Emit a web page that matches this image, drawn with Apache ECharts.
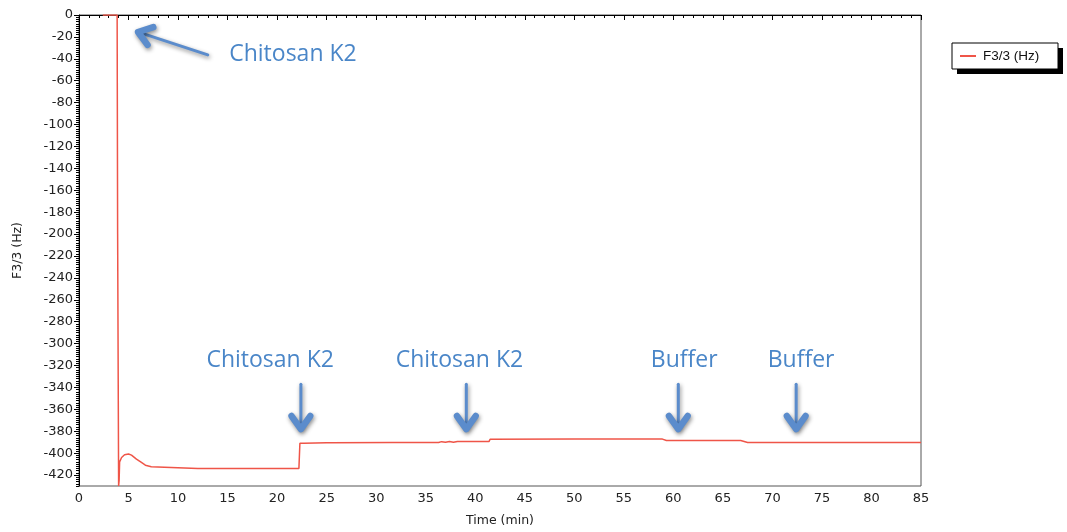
<!DOCTYPE html>
<html>
<head>
<meta charset="utf-8">
<script src="https://cdn.jsdelivr.net/npm/echarts@6/dist/echarts.min.js"></script>
<style>html,body{margin:0;padding:0;background:#fff}#c{width:1067px;height:532px}</style>
</head>
<body>
<div id="c"></div>
<script>
// Measured series F3/3 (Hz) vs Time (min)
const timeMin = [2.4, 3.85, 3.9, 4.0, 4.05, 4.1, 4.3, 4.6, 5.0, 5.3, 5.8, 6.3, 6.7, 7.3, 7.95, 8.0,
  12, 16.2, 16.3, 16.4, 17.5, 17.6, 17.7, 22.2, 22.3, 22.5, 22.7, 25.0, 25.2, 25.4, 31.6, 31.7, 31.8,
  36.3, 36.6, 37.0, 37.4, 37.8, 38.2, 38.5, 41.4, 41.5, 50, 58.9, 59.0, 59.1, 59.3, 66.8, 66.9, 67.5, 67.6, 67.7,
  73.6, 73.7, 73.8, 85];
const f33Hz = [0, 0, -200, -430, -425, -408, -404, -401.5, -400.8, -401.8, -405.5, -408.5, -411, -412.4, -412.6, -414,
  -414, -414, -415.5, -414, -414, -415.5, -414, -414, -391, -389.5, -391, -390.5, -389.8, -390.5, -390.3, -388.8, -390.3,
  -390.3, -389.5, -390.1, -389.4, -390, -389.3, -389.4, -389.3, -387.3, -387.2, -387.2, -385.5, -387.2, -388.5, -388.5, -390.3, -390.3, -389.2, -390.3,
  -390.3, -389.2, -390.3, -390.3];

// Axis ticks
const xTickValues = [0, 5, 10, 15, 20, 25, 30, 35, 40, 45, 50, 55, 60, 65, 70, 75, 80, 85];
const yTickValues = [0, -20, -40, -60, -80, -100, -120, -140, -160, -180, -200, -220, -240, -260, -280, -300,
  -320, -340, -360, -380, -400, -420];
const yRange = [-430, 0];

// Annotations (data coordinates)
const noteLabels = ['Chitosan K2', 'Chitosan K2', 'Chitosan K2', 'Buffer', 'Buffer'];
const noteAt = [[21.6, -36.4], [19.3, -315.5], [38.4, -315.5], [61.1, -315.5], [72.9, -315.5]];
const arrowTail = [[13.0, -36.4], [22.4, -337], [39.1, -337], [60.5, -337], [72.4, -337]];
const arrowTip = [[5.96, -15.5], [22.4, -378], [39.1, -378], [60.5, -378], [72.4, -378]];

const blue = '#5b8ccc';
const chart = echarts.init(document.getElementById('c'));
const lineData = timeMin.map((t, i) => [t, f33Hz[i]]);
const arrowData = arrowTail.map((a, i) => [a[0], a[1], arrowTip[i][0], arrowTip[i][1]]);
const noteData = noteAt.map((p, i) => [p[0], p[1], i]);

chart.setOption({
  animation: false,
  textStyle: {fontFamily: 'DejaVu Sans'},
  grid: {left: 79, right: 146, top: 15, bottom: 45, show: true, borderColor: '#555', borderWidth: 1},
  graphic: [
    {type: 'rect', shape: {x: 957, y: 48, width: 106, height: 26}, style: {fill: '#000'}, z: 1, silent: true},
    {type: 'rect', shape: {x: 952, y: 43, width: 106, height: 26}, style: {fill: '#fff', stroke: '#000', lineWidth: 1}, z: 2, silent: true}
  ],
  legend: {
    left: 952, top: 43, orient: 'vertical',
    backgroundColor: 'transparent', borderWidth: 0,
    padding: [6, 8, 6, 8], itemWidth: 16, itemHeight: 2, itemGap: 4,
    icon: 'rect', z: 10,
    textStyle: {fontFamily: 'Liberation Sans', fontSize: 13.5, color: '#111', padding: [0, 0, 0, 2]},
    data: ['F3/3 (Hz)']
  },
  xAxis: {
    type: 'value', min: xTickValues[0], max: xTickValues[xTickValues.length - 1], interval: 5,
    name: 'Time (min)', nameLocation: 'middle', nameGap: 28,
    nameTextStyle: {fontFamily: 'DejaVu Sans', fontSize: 12.5, color: '#222'},
    axisLine: {lineStyle: {color: '#000', width: 1}},
    axisTick: {length: 5, lineStyle: {color: '#000'}},
    minorTick: {show: true, splitNumber: 5, length: 3, lineStyle: {color: '#000'}},
    axisLabel: {fontSize: 13, color: '#222', margin: 6, fontFamily: 'DejaVu Sans'},
    splitLine: {show: false}
  },
  yAxis: [
    {
      type: 'value', min: yRange[0], max: yRange[1], interval: 10,
      name: 'F3/3 (Hz)', nameLocation: 'middle', nameGap: 55, nameRotate: 90,
      nameTextStyle: {fontFamily: 'DejaVu Sans', fontSize: 12.5, color: '#222'},
      axisLine: {lineStyle: {color: '#000', width: 1}},
      axisTick: {length: 5, lineStyle: {color: '#000'}, customValues: yTickValues},
      axisLabel: {fontSize: 13, color: '#222', margin: 6, fontFamily: 'DejaVu Sans', customValues: yTickValues},
      splitLine: {show: false}
    },
    {
      type: 'value', min: yRange[0], max: yRange[1], interval: 2, position: 'left',
      axisLine: {show: false},
      axisTick: {show: true, length: 3, lineStyle: {color: '#000'}},
      axisLabel: {show: false},
      splitLine: {show: false}
    }
  ],
  series: [
    {
      name: 'F3/3 (Hz)', type: 'line', data: lineData, showSymbol: false, symbol: 'none',
      color: '#ef5548', lineStyle: {color: '#ef5548', width: 1.5}, clip: true, z: 3
    },
    {
      type: 'custom', data: arrowData, silent: true, z: 5,
      renderItem: function (params, api) {
        const a = api.coord([api.value(0), api.value(1)]);
        const b = api.coord([api.value(2), api.value(3)]);
        const ang = Math.atan2(b[1] - a[1], b[0] - a[0]);
        const L = 16, spread = 0.62;
        const p1 = [b[0] - L * Math.cos(ang - spread), b[1] - L * Math.sin(ang - spread)];
        const p2 = [b[0] - L * Math.cos(ang + spread), b[1] - L * Math.sin(ang + spread)];
        const sh = {shadowColor: 'rgba(0,0,0,0.45)', shadowBlur: 4, shadowOffsetX: 1, shadowOffsetY: 2};
        return {
          type: 'group', children: [
            {type: 'line', shape: {x1: a[0], y1: a[1], x2: b[0] - 2 * Math.cos(ang), y2: b[1] - 2 * Math.sin(ang)},
              style: Object.assign({stroke: blue, lineWidth: 3, lineCap: 'round'}, sh)},
            {type: 'polyline', shape: {points: [p1, b, p2]},
              style: Object.assign({stroke: blue, fill: null, lineWidth: 6.5, lineCap: 'round', lineJoin: 'round'}, sh)}
          ]
        };
      }
    },
    {
      type: 'custom', data: noteData, silent: true, z: 6,
      renderItem: function (params, api) {
        const p = api.coord([api.value(0), api.value(1)]);
        return {
          type: 'text', x: p[0], y: p[1],
          style: {text: noteLabels[api.value(2)], fill: '#4a86c8', font: '23px "Open Sans"', align: 'center', verticalAlign: 'middle'}
        };
      }
    }
  ]
});
</script>
</body>
</html>
